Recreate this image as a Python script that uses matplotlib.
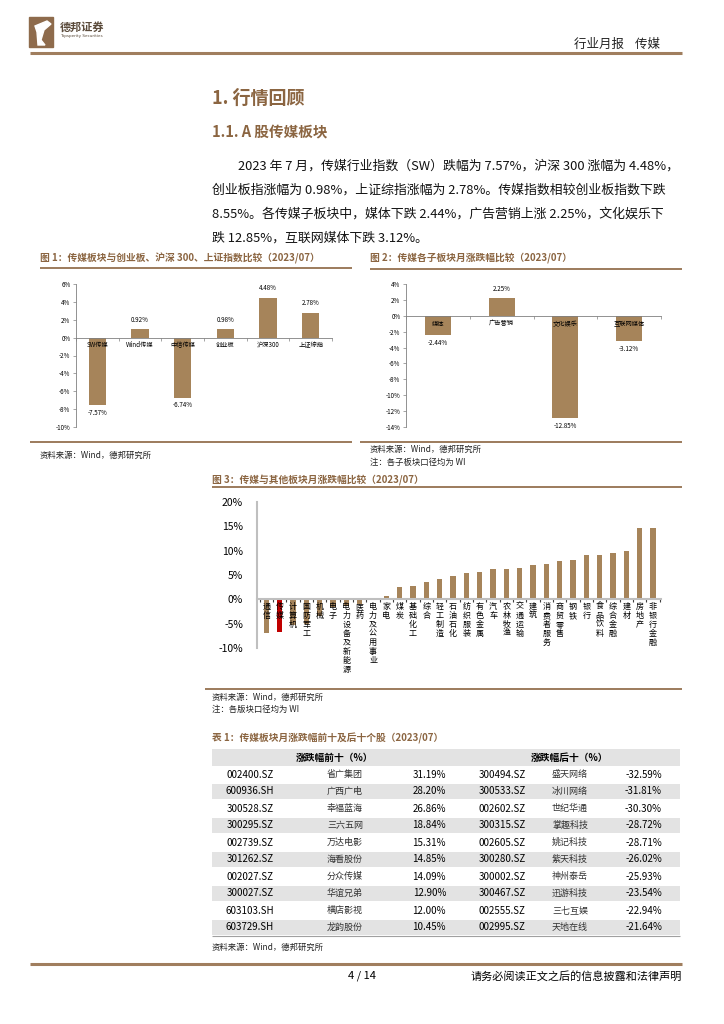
import matplotlib
matplotlib.use("Agg")
import matplotlib.pyplot as plt
from matplotlib.patches import Rectangle, Polygon
import numpy as np

plt.rcParams['font.family'] = ['Noto Sans CJK SC', 'DejaVu Sans']

W, H = 724, 1024
BROWN = '#A6845A'
TITLE = '#8B6541'
RED = '#C00000'
GREY = '#BFBFBF'

# chart 1
c1_labels = ['SW传媒', 'Wind传媒', '中信传媒', '创业板', '沪深300', '上证综指']
c1_values = [-7.57, 0.92, -6.74, 0.98, 4.48, 2.78]

# chart 2
c2_labels = ['媒体', '广告营销', '文化娱乐', '互联网媒体']
c2_values = [-2.44, 2.25, -12.85, -3.12]

# chart 3
c3_labels = ['通信', '传媒', '计算机', '国防军工', '机械', '电子', '电力设备及新能源', '医药',
             '电力及公用事业', '家电', '煤炭', '基础化工', '综合', '轻工制造', '石油石化',
             '纺织服装', '有色金属', '汽车', '农林牧渔', '交通运输', '建筑', '消费者服务',
             '商贸零售', '钢铁', '银行', '食品饮料', '综合金融', '建材', '房地产', '非银行金融']
c3_values = [-7.0, -6.74, -5.2, -5.1, -3.4, -1.5, -1.3, -1.0, -0.1, 0.7, 2.6, 2.7, 3.5, 4.1,
             4.8, 5.4, 5.7, 6.2, 6.3, 6.35, 7.0, 7.3, 7.85, 8.1, 9.2, 9.2, 9.6, 9.9, 14.6, 14.6]

# table
top_codes = ['002400.SZ', '600936.SH', '300528.SZ', '300295.SZ', '002739.SZ',
             '301262.SZ', '002027.SZ', '300027.SZ', '603103.SH', '603729.SH']
top_names = ['省广集团', '广西广电', '幸福蓝海', '三六五网', '万达电影',
             '海看股份', '分众传媒', '华谊兄弟', '横店影视', '龙韵股份']
top_pct = ['31.19%', '28.20%', '26.86%', '18.84%', '15.31%',
           '14.85%', '14.09%', '12.90%', '12.00%', '10.45%']
bot_codes = ['300494.SZ', '300533.SZ', '002602.SZ', '300315.SZ', '002605.SZ',
             '300280.SZ', '300002.SZ', '300467.SZ', '002555.SZ', '002995.SZ']
bot_names = ['盛天网络', '冰川网络', '世纪华通', '掌趣科技', '姚记科技',
             '紫天科技', '神州泰岳', '迅游科技', '三七互娱', '天地在线']
bot_pct = ['-32.59%', '-31.81%', '-30.30%', '-28.72%', '-28.71%',
           '-26.02%', '-25.93%', '-23.54%', '-22.94%', '-21.64%']

fig = plt.figure(figsize=(W / 100, H / 100), dpi=100)
fig.patch.set_facecolor('white')
page = fig.add_axes([0, 0, 1, 1])
page.set_xlim(0, W)
page.set_ylim(H, 0)
page.axis('off')


def text(x, y, s, **kw):
    kw.setdefault('va', 'center')
    page.text(x, y, s, **kw)


def hline(y, x0, x1, lw=1.5, color=TITLE):
    page.plot([x0, x1], [y, y], color=color, lw=lw, solid_capstyle='butt')


def axes_px(x0, y0, x1, y1):
    return fig.add_axes([x0 / W, 1 - y1 / H, (x1 - x0) / W, (y1 - y0) / H])


# header
page.add_patch(Rectangle((29, 17), 24, 30, color='#8E6B4C'))
page.add_patch(Polygon([[35, 26], [47, 21], [51, 24], [44, 30], [41, 40], [45, 45], [38, 45], [37, 32]],
                       closed=True, color='white'))
text(60, 27, '德邦证券', fontsize=8, fontweight='bold', color='#5A4A3A')
text(60, 36, 'Topsperity Securities', fontsize=3, color='#5A4A3A', family='DejaVu Sans')
text(660, 44, '行业月报    传媒', fontsize=9, ha='right', color='#222222')
hline(53, 30, 682, lw=2.2, color='#A07E5E')

# section headings
text(212, 98, '1. 行情回顾', fontsize=13, fontweight='bold', color=TITLE)
text(212, 132, '1.1. A 股传媒板块', fontsize=10.5, fontweight='bold', color=TITLE)

para = [(238, '2023 年 7 月，传媒行业指数（SW）跌幅为 7.57%，沪深 300 涨幅为 4.48%，'),
        (212, '创业板指涨幅为 0.98%，上证综指涨幅为 2.78%。传媒指数相较创业板指数下跌'),
        (212, '8.55%。各传媒子板块中，媒体下跌 2.44%，广告营销上涨 2.25%，文化娱乐下'),
        (212, '跌 12.85%，互联网媒体下跌 3.12%。')]
for i, (x, s) in enumerate(para):
    text(x, 166 + 24 * i, s, fontsize=9.3, color='#111111')

# ---- chart 1 ----
text(40, 258, '图 1：传媒板块与创业板、沪深 300、上证指数比较（2023/07）', fontsize=7, fontweight='bold', color=TITLE)
hline(268, 40, 352, lw=1.2)
ax1 = axes_px(76, 284, 332, 427)
x1 = np.arange(len(c1_values))
ax1.bar(x1, c1_values, width=0.4, color=BROWN)
ax1.set_xlim(-0.5, len(c1_values) - 0.5)
ax1.set_ylim(-10, 6)
ax1.set_yticks(np.arange(-10, 7, 2))
ax1.set_yticklabels([f'{v}%' for v in range(-10, 7, 2)], fontsize=4.5)
ax1.set_xticks(np.arange(-0.5, len(c1_values), 1))
ax1.set_xticklabels([])
ax1.spines['bottom'].set_position(('data', 0))
for s in ['top', 'right']:
    ax1.spines[s].set_visible(False)
for s in ['left', 'bottom']:
    ax1.spines[s].set_color('#808080')
    ax1.spines[s].set_linewidth(0.6)
ax1.tick_params(length=2, width=0.5, color='#808080', pad=2)
for xi, (lab, v) in enumerate(zip(c1_labels, c1_values)):
    ax1.text(xi, -0.35, lab, ha='center', va='top', fontsize=4.5)
    if v >= 0:
        ax1.text(xi, v + 0.6, f'{v:.2f}%', ha='center', va='bottom', fontsize=4.5)
    else:
        ax1.text(xi, v - 0.4, f'{v:.2f}%', ha='center', va='top', fontsize=4.5)
hline(442, 30, 352, lw=1.2)
text(40, 455, '资料来源：Wind，德邦研究所', fontsize=6, color='#222222')

# ---- chart 2 ----
text(370, 258, '图 2：传媒各子板块月涨跌幅比较（2023/07）', fontsize=7, fontweight='bold', color=TITLE)
hline(269, 370, 682, lw=1.2)
ax2 = axes_px(406, 284, 661, 427)
x2 = np.arange(len(c2_values))
ax2.bar(x2, c2_values, width=0.41, color=BROWN)
ax2.set_xlim(-0.5, len(c2_values) - 0.5)
ax2.set_ylim(-14, 4)
ax2.set_yticks(np.arange(-14, 5, 2))
ax2.set_yticklabels([f'{v}%' for v in range(-14, 5, 2)], fontsize=4.5)
ax2.set_xticks(np.arange(-0.5, len(c2_values), 1))
ax2.set_xticklabels([])
ax2.spines['bottom'].set_position(('data', 0))
for s in ['top', 'right']:
    ax2.spines[s].set_visible(False)
for s in ['left', 'bottom']:
    ax2.spines[s].set_color('#808080')
    ax2.spines[s].set_linewidth(0.6)
ax2.tick_params(length=2, width=0.5, color='#808080', pad=2)
for xi, (lab, v) in enumerate(zip(c2_labels, c2_values)):
    ax2.text(xi, -0.5, lab, ha='center', va='top', fontsize=4.5)
    if v >= 0:
        ax2.text(xi, v + 0.6, f'{v:.2f}%', ha='center', va='bottom', fontsize=4.5)
    else:
        ax2.text(xi, v - 0.5, f'{v:.2f}%', ha='center', va='top', fontsize=4.5)
hline(442, 360, 682, lw=1.2)
text(370, 449, '资料来源：Wind，德邦研究所', fontsize=6, color='#222222')
text(370, 462, '注：各子板块口径均为 WI', fontsize=6, color='#222222')

# ---- chart 3 ----
text(212, 480, '图 3：传媒与其他板块月涨跌幅比较（2023/07）', fontsize=7, fontweight='bold', color=TITLE)
hline(487, 212, 682, lw=1.2)
ax3 = axes_px(257, 502, 661, 648)
x3 = np.arange(len(c3_values))
colors3 = [RED if lab == '传媒' else BROWN for lab in c3_labels]
ax3.bar(x3, c3_values, width=0.42, color=colors3)
ax3.set_xlim(-0.7, len(c3_values) - 0.4)
ax3.set_ylim(-10, 20)
ax3.set_yticks(np.arange(-10, 21, 5))
ax3.set_yticklabels([f'{v}%' for v in range(-10, 21, 5)], fontsize=7.5)
ax3.set_xticks(np.arange(-0.5, len(c3_values), 1))
ax3.set_xticklabels([])
ax3.spines['bottom'].set_position(('data', 0))
for s in ['top', 'right']:
    ax3.spines[s].set_visible(False)
for s in ['left', 'bottom']:
    ax3.spines[s].set_color(GREY)
    ax3.spines[s].set_linewidth(1.5)
ax3.tick_params(axis='x', length=2, width=0.8, color='#404040')
ax3.tick_params(axis='y', length=0, pad=10)
for xi, lab in enumerate(c3_labels):
    ax3.text(xi, -0.5, '\n'.join(lab), ha='center', va='top', fontsize=5.8, linespacing=1.0)
hline(689, 205, 682, lw=1.2)
text(212, 697, '资料来源：Wind，德邦研究所', fontsize=6, color='#222222')
text(212, 709, '注：各版块口径均为 WI', fontsize=6, color='#222222')

# ---- table ----
text(212, 738, '表 1：传媒板块月涨跌幅前十及后十个股（2023/07）', fontsize=7, fontweight='bold', color=TITLE)
row_h = 17
y0 = 749
page.add_patch(Rectangle((212, y0), 468, row_h, color='#E3E3E3', lw=0))
text(335, y0 + row_h / 2, '涨跌幅前十（%）', fontsize=7, fontweight='bold', ha='center')
text(570, y0 + row_h / 2, '涨跌幅后十（%）', fontsize=7, fontweight='bold', ha='center')
for i in range(len(top_codes)):
    yt = y0 + row_h * (i + 1)
    if i % 2 == 1:
        page.add_patch(Rectangle((212, yt + 0.6), 468, row_h - 1.2, color='#E3E3E3', lw=0))
    yc = yt + row_h / 2
    text(250, yc, top_codes[i], fontsize=7, ha='center')
    text(345, yc, top_names[i], fontsize=6.5, ha='center', color='#333333')
    text(446, yc, top_pct[i], fontsize=7, ha='right')
    text(502, yc, bot_codes[i], fontsize=7, ha='center')
    text(570, yc, bot_names[i], fontsize=6.5, ha='center', color='#333333')
    text(662, yc, bot_pct[i], fontsize=7, ha='right')
hline(y0 + row_h * 11, 212, 680, lw=0.8, color='#A0A0A0')
text(212, 947, '资料来源：Wind，德邦研究所', fontsize=6, color='#222222')

# footer
hline(964, 30, 682, lw=2.2, color='#A07E5E')
text(362, 976, '4 / 14', fontsize=8, ha='center')
text(682, 976, '请务必阅读正文之后的信息披露和法律声明', fontsize=8, ha='right')

fig.savefig('out.png', dpi=100, facecolor='white')
